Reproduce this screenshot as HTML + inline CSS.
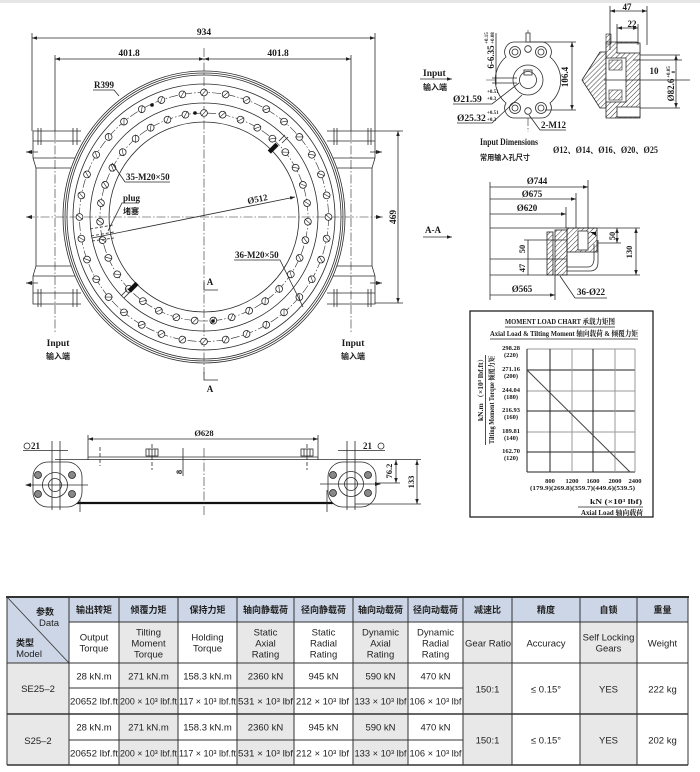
<!DOCTYPE html>
<html><head><meta charset="utf-8">
<style>
html,body{margin:0;padding:0;background:#fff;width:700px;height:772px;overflow:hidden}
svg{display:block}
.l{stroke:#2a2a2a;stroke-width:0.8;fill:none}
.w{stroke:#2a2a2a;stroke-width:0.8;fill:#fff}
.c{stroke:#2a2a2a;stroke-width:0.6;fill:none;stroke-dasharray:9 2 1.5 2}
.t{font-family:"Liberation Serif","Noto Serif CJK SC",serif;font-weight:bold;fill:#1a1a1a}
.s{font-family:"Liberation Sans","Noto Sans CJK SC",sans-serif;fill:#222}
.k{font-family:"Noto Sans CJK SC","WenQuanYi Zen Hei",sans-serif;font-weight:bold;fill:#222}
</style></head><body>
<svg width="700" height="772" viewBox="0 0 700 772" xmlns="http://www.w3.org/2000/svg">
<defs>
<marker id="a" viewBox="0 0 10 10" refX="10" refY="5" markerWidth="5" markerHeight="5" orient="auto-start-reverse" markerUnits="userSpaceOnUse"><path d="M0,1.5 L10,5 L0,8.5z" fill="#222"/></marker>
<pattern id="hx" width="3.5" height="3.5" patternUnits="userSpaceOnUse" patternTransform="rotate(45)"><line x1="0" y1="0" x2="0" y2="3.5" stroke="#222" stroke-width="0.9"/></pattern>
<g id="ho"><circle cx="204" cy="92.5" r="3.4" fill="#fff" stroke="#222" stroke-width="0.8"/><line x1="201.4" y1="95.6" x2="206.6" y2="89.4" stroke="#222" stroke-width="0.6"/></g>
<g id="hi"><circle cx="204" cy="113" r="3.4" fill="#fff" stroke="#222" stroke-width="0.8"/><line x1="201.4" y1="116.1" x2="206.6" y2="109.9" stroke="#222" stroke-width="0.6"/></g>
</defs>
<rect x="0" y="0" width="700" height="3" fill="#e6e6e6"/>

<!-- ============ MAIN PLAN VIEW ============ -->
<line x1="32" y1="38" x2="375" y2="38" class="l" marker-start="url(#a)" marker-end="url(#a)"/>
<line x1="32" y1="33" x2="32" y2="131" class="l"/>
<line x1="375" y1="33" x2="375" y2="131" class="l"/>
<text x="204" y="35" class="t" font-size="9.5" text-anchor="middle">934</text>
<line x1="55" y1="59" x2="204" y2="59" class="l" marker-start="url(#a)" marker-end="url(#a)"/>
<line x1="204" y1="59" x2="351" y2="59" class="l" marker-start="url(#a)" marker-end="url(#a)"/>
<text x="129" y="56" class="t" font-size="9.5" text-anchor="middle">401.8</text>
<text x="278" y="56" class="t" font-size="9.5" text-anchor="middle">401.8</text>
<line x1="55" y1="55" x2="55" y2="131" class="l"/>
<line x1="351" y1="55" x2="351" y2="131" class="l"/>

<!-- housings -->
<path d="M81,131 H33 V158 L36,168 V266 L33,276 V304 H81" class="l"/>
<line x1="33" y1="141" x2="81" y2="141" class="l"/>
<line x1="33" y1="158" x2="78" y2="158" class="l"/>
<line x1="36" y1="168" x2="76" y2="168" class="l"/>
<line x1="36" y1="266" x2="76" y2="266" class="l"/>
<line x1="33" y1="276" x2="78" y2="276" class="l"/>
<line x1="33" y1="293" x2="81" y2="293" class="l"/>
<path d="M38,128 V145 M41,128 V145 M73,128 V145 M77,128 V145 M38,289 V307 M41,289 V307 M73,289 V307 M77,289 V307" class="l" stroke-width="0.6"/>
<path d="M327,131 H375 V158 L372,168 V266 L375,276 V304 H327" class="l"/>
<line x1="327" y1="141" x2="375" y2="141" class="l"/>
<line x1="330" y1="158" x2="375" y2="158" class="l"/>
<line x1="332" y1="168" x2="372" y2="168" class="l"/>
<line x1="332" y1="266" x2="372" y2="266" class="l"/>
<line x1="330" y1="276" x2="375" y2="276" class="l"/>
<line x1="327" y1="293" x2="375" y2="293" class="l"/>
<path d="M334,128 V145 M337,128 V145 M368,128 V145 M371,128 V145 M334,289 V307 M337,289 V307 M368,289 V307 M371,289 V307" class="l" stroke-width="0.6"/>
<path d="M26,152 L32,150 L32,154Z M26,217 L32,215 L32,219Z M26,283 L32,281 L32,285Z M382,152 L376,150 L376,154Z M382,217 L376,215 L376,219Z M382,283 L376,281 L376,285Z" fill="#222"/>
<path d="M26,152 H38 M26,283 H38 M370,152 H382 M370,283 H382" class="l"/>

<!-- ring -->
<ellipse cx="204" cy="217" rx="141" ry="146" class="w"/>
<ellipse cx="204" cy="217" rx="139" ry="144" class="l"/>
<ellipse cx="204" cy="217" rx="137" ry="142" class="l" stroke-width="0.6"/>
<ellipse cx="204" cy="217" rx="131" ry="133" class="l"/>
<circle cx="204" cy="217" r="114" class="l"/>
<circle cx="204" cy="217" r="95" class="l"/>
<circle cx="204" cy="217" r="124.5" class="c"/>
<circle cx="204" cy="217" r="104" class="c"/>

<line x1="204" y1="48" x2="204" y2="374" class="c"/>
<line x1="26" y1="217" x2="384" y2="217" class="c"/>
<line x1="55" y1="131" x2="55" y2="332" class="c"/>
<line x1="351" y1="131" x2="351" y2="332" class="c"/>

<use href="#ho" transform="rotate(0 204 217)"/><use href="#ho" transform="rotate(10 204 217)"/><use href="#ho" transform="rotate(20 204 217)"/><use href="#ho" transform="rotate(30 204 217)"/><use href="#ho" transform="rotate(40 204 217)"/><use href="#ho" transform="rotate(50 204 217)"/><use href="#ho" transform="rotate(60 204 217)"/><use href="#ho" transform="rotate(70 204 217)"/><use href="#ho" transform="rotate(80 204 217)"/><use href="#ho" transform="rotate(90 204 217)"/><use href="#ho" transform="rotate(100 204 217)"/><use href="#ho" transform="rotate(110 204 217)"/><use href="#ho" transform="rotate(120 204 217)"/><use href="#ho" transform="rotate(130 204 217)"/><use href="#ho" transform="rotate(140 204 217)"/><use href="#ho" transform="rotate(150 204 217)"/><use href="#ho" transform="rotate(160 204 217)"/><use href="#ho" transform="rotate(170 204 217)"/><use href="#ho" transform="rotate(180 204 217)"/><use href="#ho" transform="rotate(190 204 217)"/><use href="#ho" transform="rotate(200 204 217)"/><use href="#ho" transform="rotate(210 204 217)"/><use href="#ho" transform="rotate(220 204 217)"/><use href="#ho" transform="rotate(230 204 217)"/><use href="#ho" transform="rotate(240 204 217)"/><use href="#ho" transform="rotate(250 204 217)"/><use href="#ho" transform="rotate(260 204 217)"/><use href="#ho" transform="rotate(270 204 217)"/><use href="#ho" transform="rotate(280 204 217)"/><use href="#ho" transform="rotate(290 204 217)"/><use href="#ho" transform="rotate(300 204 217)"/><use href="#ho" transform="rotate(310 204 217)"/><use href="#ho" transform="rotate(320 204 217)"/><use href="#ho" transform="rotate(330 204 217)"/><use href="#ho" transform="rotate(340 204 217)"/><use href="#ho" transform="rotate(350 204 217)"/>
<use href="#hi" transform="rotate(0 204 217)"/><use href="#hi" transform="rotate(10.286 204 217)"/><use href="#hi" transform="rotate(20.571 204 217)"/><use href="#hi" transform="rotate(30.857 204 217)"/><use href="#hi" transform="rotate(41.143 204 217)"/><use href="#hi" transform="rotate(51.429 204 217)"/><use href="#hi" transform="rotate(61.714 204 217)"/><use href="#hi" transform="rotate(72 204 217)"/><use href="#hi" transform="rotate(82.286 204 217)"/><use href="#hi" transform="rotate(92.571 204 217)"/><use href="#hi" transform="rotate(102.857 204 217)"/><use href="#hi" transform="rotate(113.143 204 217)"/><use href="#hi" transform="rotate(123.429 204 217)"/><use href="#hi" transform="rotate(133.714 204 217)"/><use href="#hi" transform="rotate(144 204 217)"/><use href="#hi" transform="rotate(154.286 204 217)"/><use href="#hi" transform="rotate(164.571 204 217)"/><use href="#hi" transform="rotate(174.857 204 217)"/><use href="#hi" transform="rotate(185.143 204 217)"/><use href="#hi" transform="rotate(195.429 204 217)"/><use href="#hi" transform="rotate(205.714 204 217)"/><use href="#hi" transform="rotate(216 204 217)"/><use href="#hi" transform="rotate(226.286 204 217)"/><use href="#hi" transform="rotate(236.571 204 217)"/><use href="#hi" transform="rotate(246.857 204 217)"/><use href="#hi" transform="rotate(257.143 204 217)"/><use href="#hi" transform="rotate(267.429 204 217)"/><use href="#hi" transform="rotate(277.714 204 217)"/><use href="#hi" transform="rotate(288 204 217)"/><use href="#hi" transform="rotate(298.286 204 217)"/><use href="#hi" transform="rotate(308.571 204 217)"/><use href="#hi" transform="rotate(318.857 204 217)"/><use href="#hi" transform="rotate(329.143 204 217)"/><use href="#hi" transform="rotate(339.429 204 217)"/><use href="#hi" transform="rotate(349.714 204 217)"/>

<rect x="271" y="142.5" width="4.5" height="11" fill="#111" transform="rotate(45 273 148)"/>
<rect x="131" y="281.5" width="4.5" height="11" fill="#111" transform="rotate(45 133 287)"/>
<path d="M279,141 L285,135 M282,143 L288,137 M121,296 L127,290 M124,298 L130,292" class="l" stroke-width="0.6"/>
<path d="M90,229 L113,225 M91,236 L114,232 M92,241 L114,238" class="l" stroke-width="0.6" stroke-dasharray="3 2"/>
<circle cx="195" cy="113" r="1.8" fill="#111"/><circle cx="152" cy="105" r="1.8" fill="#111"/><circle cx="213" cy="321" r="1.8" fill="#111"/>

<text x="94" y="88" class="t" font-size="9">R399</text>
<path d="M93,90 H114 L119,96" class="l"/>
<text x="126" y="180" class="t" font-size="9">35-M20×50</text>
<path d="M170,182 H125 L112,163" class="l"/>
<text x="123" y="201" class="t" font-size="9">plug</text>
<text x="123" y="214" class="k" font-size="8">堵塞</text>
<path d="M139,203 H122 L108,231" class="l"/>
<line x1="92" y1="238" x2="295" y2="197" class="l" marker-end="url(#a)"/>
<text transform="translate(258,202) rotate(-11.4)" class="t" font-size="9" text-anchor="middle">Ø512</text>
<text x="235" y="258" class="t" font-size="9">36-M20×50</text>
<path d="M234,260 H280 L303,307" class="l"/>
<text x="210" y="285" class="t" font-size="9" text-anchor="middle">A</text>
<path d="M204,282 V290 H218" class="l" stroke-width="1"/>
<path d="M204,372 V380 H218" class="l" stroke-width="1"/>
<text x="210" y="392" class="t" font-size="9" text-anchor="middle">A</text>
<text x="58" y="346" class="t" font-size="9.5" text-anchor="middle">Input</text>
<text x="58" y="359" class="k" font-size="8" text-anchor="middle">输入端</text>
<text x="353" y="346" class="t" font-size="9.5" text-anchor="middle">Input</text>
<text x="353" y="359" class="k" font-size="8" text-anchor="middle">输入端</text>
<line x1="398" y1="131" x2="398" y2="303" class="l" marker-start="url(#a)" marker-end="url(#a)"/>
<line x1="375" y1="131" x2="403" y2="131" class="l"/>
<line x1="375" y1="303" x2="403" y2="303" class="l"/>
<text transform="translate(396,217) rotate(-90)" class="t" font-size="9.5" text-anchor="middle">469</text>

<!-- ============ INPUT FLANGE VIEW ============ -->
<text x="423" y="76" class="t" font-size="9.5" font-weight="normal">Input</text>
<text x="423" y="90" class="k" font-size="8">输入端</text>
<line x1="420" y1="79" x2="452" y2="79" class="l" marker-end="url(#a)"/>
<line x1="486" y1="80" x2="566" y2="80" class="c"/>
<line x1="528" y1="30" x2="528" y2="132" class="c"/>
<path d="M515,42 L541,42 A10,10 0 0 1 550,57 A30,30 0 0 1 550,103 A10,10 0 0 1 541,118 L515,118 A10,10 0 0 1 506,103 A30,30 0 0 1 506,57 A10,10 0 0 1 515,42 Z" class="w"/>
<rect x="526" y="33" width="4" height="9" class="w"/>
<circle cx="515" cy="52" r="5.5" class="l"/><circle cx="515" cy="52" r="3" class="l"/>
<circle cx="541" cy="52" r="5.5" class="l"/><circle cx="541" cy="52" r="3" class="l"/>
<circle cx="515" cy="108" r="5.5" class="l"/><circle cx="515" cy="108" r="3" class="l"/>
<circle cx="541" cy="108" r="5.5" class="l"/><circle cx="541" cy="108" r="3" class="l"/>
<circle cx="528" cy="49" r="3.3" class="l"/><circle cx="528" cy="111" r="3.3" class="l"/>
<circle cx="528" cy="80" r="15" class="l"/>
<circle cx="528" cy="80" r="8.5" class="l"/>
<rect x="524" y="70" width="8" height="5" class="l" stroke-width="0.6"/>
<path d="M496,33 V85 M492,78 H517 M492,83 H517" class="l" stroke-width="0.6"/>
<text transform="translate(494,57) rotate(-90)" class="t" font-size="9" text-anchor="middle">6-6.35</text>
<text transform="translate(488,38) rotate(-90)" class="t" font-size="5" text-anchor="middle">+0.15</text>
<text transform="translate(494,38) rotate(-90)" class="t" font-size="5" text-anchor="middle">+0.08</text>
<line x1="572" y1="42" x2="572" y2="110" class="l" marker-start="url(#a)" marker-end="url(#a)"/>
<path d="M530,42 H576 M545,110 H576" class="l" stroke-width="0.6"/>
<text transform="translate(568,77) rotate(-90)" class="t" font-size="9" text-anchor="middle">106.4</text>
<text x="453" y="102" class="t" font-size="9.5">Ø21.59</text>
<text x="487" y="93" class="t" font-size="5">+0.51</text>
<text x="487" y="100" class="t" font-size="5">+0.3</text>
<path d="M453,104 H492 L519,83" class="l"/>
<text x="457" y="121" class="t" font-size="9.5">Ø25.32</text>
<text x="487" y="114" class="t" font-size="5">+0.51</text>
<text x="487" y="121" class="t" font-size="5">+0.3</text>
<path d="M457,123 H492 L522,95" class="l"/>
<text x="541" y="128" class="t" font-size="9">2-M12</text>
<path d="M566,130 H540 L529,115" class="l"/>
<text x="480" y="145" class="t" font-size="9" font-weight="normal" textLength="58" lengthAdjust="spacingAndGlyphs">Input Dimensions</text>
<text x="480" y="160" class="k" font-size="7.5" textLength="50" lengthAdjust="spacingAndGlyphs">常用输入孔尺寸</text>
<text x="553" y="153" class="t" font-size="9.5" textLength="105" lengthAdjust="spacingAndGlyphs">Ø12、Ø14、Ø16、Ø20、Ø25</text>

<polygon points="582,80 600,52 606,52 606,108 600,108" fill="url(#hx)" stroke="#222" stroke-width="0.8"/>
<path d="M606,42 H636 Q640,42 640,46 V118 H606 Z" fill="url(#hx)" stroke="#222" stroke-width="0.8"/>
<rect x="617" y="43" width="23" height="10" class="w"/>
<rect x="617" y="107" width="23" height="10" class="w"/>
<rect x="606" y="58" width="20" height="44" class="w"/>
<rect x="609" y="60" width="13" height="10" fill="url(#hx)" stroke="#222" stroke-width="0.6"/>
<rect x="609" y="90" width="13" height="10" fill="url(#hx)" stroke="#222" stroke-width="0.6"/>
<rect x="606" y="34" width="5" height="10" fill="url(#hx)" stroke="#222" stroke-width="0.6"/>
<path d="M610,6 V50 M647,6 V45 M617,24 V45 M638,24 V45" class="l" stroke-width="0.6"/>
<line x1="610" y1="11" x2="647" y2="11" class="l" marker-start="url(#a)" marker-end="url(#a)"/>
<line x1="617" y1="28" x2="638" y2="28" class="l" marker-start="url(#a)" marker-end="url(#a)"/>
<text x="627" y="10" class="t" font-size="9" text-anchor="middle">47</text>
<text x="632" y="27" class="t" font-size="9" text-anchor="middle">22</text>
<path d="M633,60 H682 M604,80 H690" class="l" stroke-width="0.6"/>
<text x="654" y="74" class="t" font-size="9" text-anchor="middle">10</text>
<path d="M640,55 H680 M640,108 H680" class="l" stroke-width="0.6"/>
<line x1="676" y1="55" x2="676" y2="108" class="l" marker-start="url(#a)" marker-end="url(#a)"/>
<text transform="translate(674,90) rotate(-90)" class="t" font-size="9" text-anchor="middle">Ø82.6</text>
<text transform="translate(670,72) rotate(-90)" class="t" font-size="5" text-anchor="middle">+0.05</text>
<text transform="translate(675,72) rotate(-90)" class="t" font-size="5" text-anchor="middle">0</text>

<!-- ============ SECTION A-A ============ -->
<text x="425" y="233" class="t" font-size="9">A-A</text>
<line x1="423" y1="237" x2="452" y2="237" class="l" marker-end="url(#a)"/>
<line x1="490" y1="182" x2="490" y2="300" class="l" stroke-width="0.6"/>
<line x1="490" y1="187" x2="588" y2="187" class="l" marker-end="url(#a)"/>
<line x1="490" y1="199" x2="576" y2="199" class="l" marker-end="url(#a)"/>
<line x1="490" y1="214" x2="566" y2="214" class="l" marker-end="url(#a)"/>
<path d="M588,180 V228 M576,193 V228 M566,207 V228" class="l" stroke-width="0.6"/>
<text x="537" y="184" class="t" font-size="9" text-anchor="middle">Ø744</text>
<text x="532" y="197" class="t" font-size="9" text-anchor="middle">Ø675</text>
<text x="527" y="211" class="t" font-size="9" text-anchor="middle">Ø620</text>
<line x1="490" y1="228" x2="640" y2="228" class="l"/>
<line x1="490" y1="275" x2="640" y2="275" class="l"/>
<line x1="524" y1="240" x2="567" y2="240" class="l" stroke-width="0.6"/>
<line x1="490" y1="259" x2="567" y2="259" class="l" stroke-width="0.6"/>
<line x1="528" y1="240" x2="528" y2="275" class="l" stroke-width="0.6"/>
<text transform="translate(525,249) rotate(-90)" class="t" font-size="8.5" text-anchor="middle">50</text>
<text transform="translate(525,268) rotate(-90)" class="t" font-size="8.5" text-anchor="middle">47</text>
<rect x="547" y="232" width="6" height="43" fill="url(#hx)" stroke="#222" stroke-width="0.8"/>
<rect x="555" y="230" width="12" height="45" fill="url(#hx)" stroke="#222" stroke-width="0.8"/>
<rect x="567" y="228" width="30" height="24" fill="url(#hx)" stroke="#222" stroke-width="0.8"/>
<rect x="578" y="231" width="10" height="19" class="w"/>
<path d="M567,252 V271 H590 Q598,271 598,262 V240" class="l" stroke-width="1.2"/>
<path d="M567,256 V267 H588 Q593,267 594,260 V244" class="l" stroke-width="0.8"/>
<path d="M590,232 L596,232 L596,236Z" fill="#111"/>
<line x1="555" y1="275" x2="555" y2="300" class="l" stroke-width="0.6"/>
<line x1="490" y1="295" x2="555" y2="295" class="l" marker-end="url(#a)"/>
<text x="522" y="292" class="t" font-size="9" text-anchor="middle">Ø565</text>
<text x="577" y="295" class="t" font-size="9">36-Ø22</text>
<path d="M607,298 H575 L560,276" class="l"/>
<line x1="598" y1="243" x2="621" y2="243" class="l" stroke-width="0.6"/>
<line x1="617" y1="228" x2="617" y2="243" class="l" marker-start="url(#a)" marker-end="url(#a)"/>
<text transform="translate(615,236) rotate(-90)" class="t" font-size="8.5" text-anchor="middle">50</text>
<line x1="636" y1="228" x2="636" y2="275" class="l" marker-start="url(#a)" marker-end="url(#a)"/>
<text transform="translate(632,252) rotate(-90)" class="t" font-size="8.5" text-anchor="middle">130</text>

<!-- ============ MOMENT CHART ============ -->
<rect x="470" y="311" width="183" height="206" fill="none" stroke="#222" stroke-width="1.3"/>
<text x="505" y="324" class="t" font-size="7.5" textLength="110" lengthAdjust="spacingAndGlyphs">MOMENT LOAD CHART 承载力矩图</text>
<line x1="505" y1="327" x2="615" y2="327" stroke="#222" stroke-width="0.8"/>
<text x="490" y="336" class="t" font-size="7.5" textLength="148" lengthAdjust="spacingAndGlyphs">Axial Load &amp; Tilting Moment 轴向载荷 &amp; 倾覆力矩</text>
<line x1="490" y1="339" x2="638" y2="339" stroke="#222" stroke-width="0.8"/>
<g stroke-width="1">
<line x1="527" y1="349" x2="635" y2="349" stroke="#9a9a9a"/>
<line x1="527" y1="370" x2="635" y2="370" stroke="#222"/>
<line x1="527" y1="391" x2="635" y2="391" stroke="#9a9a9a"/>
<line x1="527" y1="411" x2="635" y2="411" stroke="#222"/>
<line x1="527" y1="432" x2="635" y2="432" stroke="#9a9a9a"/>
<line x1="527" y1="452" x2="635" y2="452" stroke="#222"/>
<line x1="527" y1="472" x2="635" y2="472" stroke="#222"/>
<line x1="527" y1="349" x2="527" y2="472" stroke="#222"/>
<line x1="550" y1="349" x2="550" y2="472" stroke="#222"/>
<line x1="572" y1="349" x2="572" y2="472" stroke="#9a9a9a"/>
<line x1="593" y1="349" x2="593" y2="472" stroke="#222"/>
<line x1="615" y1="349" x2="615" y2="472" stroke="#9a9a9a"/>
<line x1="635" y1="349" x2="635" y2="472" stroke="#9a9a9a"/>
</g>
<line x1="527" y1="370" x2="630" y2="472" stroke="#444" stroke-width="1"/>
<g class="t" font-size="6.5" text-anchor="middle">
<text x="511" y="350">298.28</text><text x="511" y="357">(220)</text>
<text x="511" y="371">271.16</text><text x="511" y="378">(200)</text>
<text x="511" y="392">244.04</text><text x="511" y="399">(180)</text>
<text x="511" y="412">216.93</text><text x="511" y="419">(160)</text>
<text x="511" y="433">189.81</text><text x="511" y="440">(140)</text>
<text x="511" y="453">162.70</text><text x="511" y="460">(120)</text>
<text x="550" y="483">800</text><text x="572" y="483">1200</text><text x="593" y="483">1600</text><text x="615" y="483">2000</text><text x="635" y="483">2400</text>
</g>
<text x="530" y="490" class="t" font-size="6.5" textLength="105" lengthAdjust="spacingAndGlyphs">(179.9)(269.8)(359.7)(449.6)(539.5)</text>
<text transform="translate(483,388) rotate(-90)" x="-33" class="t" font-size="7" textLength="66" lengthAdjust="spacingAndGlyphs">kN.m （×10³ lbf.ft）</text>
<line x1="485.5" y1="355" x2="485.5" y2="445" stroke="#222" stroke-width="0.8"/>
<text transform="translate(494,400) rotate(-90)" x="-44" class="t" font-size="7" textLength="88" lengthAdjust="spacingAndGlyphs">Tilting Moment Torque 倾覆力矩</text>
<text x="590" y="504" class="t" font-size="7" textLength="52" lengthAdjust="spacingAndGlyphs">kN (×10³ lbf)</text>
<line x1="578" y1="507" x2="643" y2="507" stroke="#222" stroke-width="0.8"/>
<text x="581" y="515" class="t" font-size="7" textLength="62" lengthAdjust="spacingAndGlyphs">Axial Load 轴向载荷</text>

<!-- ============ BOTTOM SIDE VIEW ============ -->
<line x1="88" y1="439" x2="318" y2="439" class="l" marker-start="url(#a)" marker-end="url(#a)"/>
<line x1="88" y1="435" x2="88" y2="460" class="l"/>
<line x1="318" y1="435" x2="318" y2="460" class="l"/>
<text x="204" y="436" class="t" font-size="8.5" text-anchor="middle">Ø628</text>
<line x1="88" y1="457" x2="318" y2="457" class="l"/>
<line x1="55" y1="459.5" x2="352" y2="459.5" class="l"/>
<line x1="67" y1="503" x2="340" y2="503" stroke="#111" stroke-width="2.2"/>
<line x1="80" y1="490" x2="80" y2="512" class="l"/>
<line x1="327" y1="490" x2="327" y2="512" class="l"/>
<path d="M100,447 V466 M152,444 V470 M307,444 V470" class="l" stroke-width="0.6" stroke-dasharray="4 2"/>
<rect x="146" y="449" width="12" height="7" class="w"/>
<path d="M149,449 V456 M152,449 V456 M155,449 V456" class="l" stroke-width="0.5"/>
<rect x="301" y="449" width="12" height="7" class="w"/>
<path d="M304,449 V456 M307,449 V456 M310,449 V456" class="l" stroke-width="0.5"/>
<line x1="183" y1="448" x2="183" y2="476" class="l"/>
<text transform="translate(182,472) rotate(-90)" class="t" font-size="8.5" text-anchor="middle">8</text>
<line x1="204" y1="448" x2="204" y2="517" class="c"/>
<rect x="33" y="462" width="49" height="45" rx="15" class="w"/>
<circle cx="55" cy="485" r="12.5" class="l"/>
<circle cx="55" cy="485" r="6.5" class="l"/>
<circle cx="38" cy="475" r="3.5" fill="#888" stroke="#222" stroke-width="0.8"/>
<circle cx="72" cy="475" r="3.5" fill="#888" stroke="#222" stroke-width="0.8"/>
<circle cx="38" cy="494" r="3.5" fill="#888" stroke="#222" stroke-width="0.8"/>
<circle cx="72" cy="494" r="3.5" fill="#888" stroke="#222" stroke-width="0.8"/>
<path d="M52,441 V510 M60,441 V510" class="l"/>
<line x1="26" y1="485" x2="88" y2="485" class="l" stroke-width="0.6"/>
<path d="M25,485 L31,483 L31,487Z" fill="#222"/>
<circle cx="27" cy="446" r="3" class="l"/>
<text x="31" y="449" class="t" font-size="9">21</text>
<line x1="23" y1="450.5" x2="68" y2="450.5" class="l"/>
<rect x="328" y="462" width="48" height="45" rx="15" class="w"/>
<circle cx="351" cy="484" r="12.5" class="l"/>
<circle cx="351" cy="484" r="6.5" class="l"/>
<circle cx="333" cy="475" r="3.5" fill="#888" stroke="#222" stroke-width="0.8"/>
<circle cx="368" cy="475" r="3.5" fill="#888" stroke="#222" stroke-width="0.8"/>
<circle cx="333" cy="493" r="3.5" fill="#888" stroke="#222" stroke-width="0.8"/>
<circle cx="368" cy="493" r="3.5" fill="#888" stroke="#222" stroke-width="0.8"/>
<path d="M347,441 V510 M355,441 V510" class="l"/>
<line x1="320" y1="484" x2="380" y2="484" class="l" stroke-width="0.6"/>
<path d="M381,484 L375,482 L375,486Z" fill="#222"/>
<text x="363" y="449" class="t" font-size="9">21</text>
<circle cx="381" cy="446" r="3" class="l"/>
<line x1="338" y1="450.5" x2="385" y2="450.5" class="l"/>
<line x1="352" y1="459.5" x2="421" y2="459.5" class="l" stroke-width="0.6"/>
<line x1="355" y1="504" x2="421" y2="504" class="l" stroke-width="0.6"/>
<line x1="378" y1="483" x2="400" y2="483" class="l" stroke-width="0.6"/>
<line x1="396" y1="460" x2="396" y2="483" class="l" marker-start="url(#a)" marker-end="url(#a)"/>
<text transform="translate(392,471) rotate(-90)" class="t" font-size="8.5" text-anchor="middle">76.2</text>
<line x1="417" y1="460" x2="417" y2="504" class="l" marker-start="url(#a)" marker-end="url(#a)"/>
<text transform="translate(414,482) rotate(-90)" class="t" font-size="8.5" text-anchor="middle">133</text>

<!-- ============ TABLE ============ -->
<rect x="7" y="597" width="62" height="66" fill="#ccd6e6"/>
<rect x="69" y="597" width="619" height="25" fill="#ccd6e6"/>
<g fill="#e8e8e8">
<rect x="7" y="663" width="62" height="102"/>
<rect x="119" y="622" width="59" height="143"/>
<rect x="237" y="622" width="57" height="143"/>
<rect x="353" y="622" width="55" height="143"/>
<rect x="463" y="622" width="49" height="143"/>
<rect x="580" y="622" width="57" height="143"/>
</g>
<g stroke="#333" stroke-width="1">
<line x1="69" y1="622" x2="688" y2="622"/>
<line x1="7" y1="663" x2="688" y2="663"/>
<line x1="69" y1="688" x2="463" y2="688"/>
<line x1="69" y1="740" x2="463" y2="740"/>
<line x1="7" y1="714" x2="688" y2="714" stroke-width="1.5"/>
<line x1="7" y1="765" x2="688" y2="765" stroke-width="1.5"/>
<line x1="6" y1="597" x2="689" y2="597" stroke-width="2"/>
<line x1="7" y1="597" x2="7" y2="765"/>
<line x1="69" y1="597" x2="69" y2="765"/>
<line x1="119" y1="597" x2="119" y2="765"/>
<line x1="178" y1="597" x2="178" y2="765"/>
<line x1="237" y1="597" x2="237" y2="765"/>
<line x1="294" y1="597" x2="294" y2="765"/>
<line x1="353" y1="597" x2="353" y2="765"/>
<line x1="408" y1="597" x2="408" y2="765"/>
<line x1="463" y1="597" x2="463" y2="765"/>
<line x1="512" y1="597" x2="512" y2="765"/>
<line x1="580" y1="597" x2="580" y2="765"/>
<line x1="637" y1="597" x2="637" y2="765"/>
<line x1="688" y1="597" x2="688" y2="765"/>
<line x1="7" y1="597" x2="69" y2="663" stroke-width="0.8"/>
</g>
<g class="k" font-size="9" text-anchor="middle">
<text x="45" y="615">参数</text>
<text x="25" y="646">类型</text>
<text x="94" y="613">输出转矩</text>
<text x="148.5" y="613">倾覆力矩</text>
<text x="207.5" y="613">保持力矩</text>
<text x="265.5" y="613">轴向静载荷</text>
<text x="323.5" y="613">径向静载荷</text>
<text x="380.5" y="613">轴向动载荷</text>
<text x="435.5" y="613">径向动载荷</text>
<text x="487.5" y="613">减速比</text>
<text x="546" y="613">精度</text>
<text x="608.5" y="613">自锁</text>
<text x="662.5" y="613">重量</text>
</g>
<g class="s" font-size="9.5" text-anchor="middle">
<text x="49" y="626">Data</text>
<text x="29" y="657">Model</text>
<text x="94" y="640.5">Output</text><text x="94" y="651.5">Torque</text>
<text x="148.5" y="635.5">Tilting</text><text x="148.5" y="646.5">Moment</text><text x="148.5" y="657.5">Torque</text>
<text x="207.5" y="640.5">Holding</text><text x="207.5" y="651.5">Torque</text>
<text x="265.5" y="635.5">Static</text><text x="265.5" y="646.5">Axial</text><text x="265.5" y="657.5">Rating</text>
<text x="323.5" y="635.5">Static</text><text x="323.5" y="646.5">Radial</text><text x="323.5" y="657.5">Rating</text>
<text x="380.5" y="635.5">Dynamic</text><text x="380.5" y="646.5">Axial</text><text x="380.5" y="657.5">Rating</text>
<text x="435.5" y="635.5">Dynamic</text><text x="435.5" y="646.5">Radial</text><text x="435.5" y="657.5">Rating</text>
<text x="546" y="646.5">Accuracy</text>
<text x="608.5" y="640.5">Self Locking</text><text x="608.5" y="651.5">Gears</text>
<text x="662.5" y="646.5">Weight</text>

<text x="38" y="692">SE25–2</text>
<text x="94" y="679.5">28 kN.m</text>
<text x="148.5" y="679.5">271 kN.m</text>
<text x="207.5" y="679.5">158.3 kN.m</text>
<text x="265.5" y="679.5">2360 kN</text>
<text x="323.5" y="679.5">945 kN</text>
<text x="380.5" y="679.5">590 kN</text>
<text x="435.5" y="679.5">470 kN</text>
<text x="487.5" y="692.5">150:1</text>
<text x="546" y="692.5">≤ 0.15°</text>
<text x="608.5" y="692.5">YES</text>
<text x="662.5" y="692.5">222 kg</text>

<text x="38" y="744">S25–2</text>
<text x="94" y="730.5">28 kN.m</text>
<text x="148.5" y="730.5">271 kN.m</text>
<text x="207.5" y="730.5">158.3 kN.m</text>
<text x="265.5" y="730.5">2360 kN</text>
<text x="323.5" y="730.5">945 kN</text>
<text x="380.5" y="730.5">590 kN</text>
<text x="435.5" y="730.5">470 kN</text>
<text x="487.5" y="743.5">150:1</text>
<text x="546" y="743.5">≤ 0.15°</text>
<text x="608.5" y="743.5">YES</text>
<text x="662.5" y="743.5">202 kg</text>
</g>
<text x="465" y="646.5" class="s" font-size="9.5" textLength="46" lengthAdjust="spacingAndGlyphs">Gear Ratio</text>
<g class="s" font-size="9">
<text x="70" y="704.5" textLength="48" lengthAdjust="spacingAndGlyphs">20652 lbf.ft</text>
<text x="120" y="704.5" textLength="57" lengthAdjust="spacingAndGlyphs">200 × 10³ lbf.ft</text>
<text x="179" y="704.5" textLength="57" lengthAdjust="spacingAndGlyphs">117 × 10³ lbf.ft</text>
<text x="238" y="704.5" textLength="55" lengthAdjust="spacingAndGlyphs">531 × 10³ lbf</text>
<text x="296" y="704.5" textLength="53" lengthAdjust="spacingAndGlyphs">212 × 10³ lbf</text>
<text x="354.5" y="704.5" textLength="52" lengthAdjust="spacingAndGlyphs">133 × 10³ lbf</text>
<text x="409.5" y="704.5" textLength="52" lengthAdjust="spacingAndGlyphs">106 × 10³ lbf</text>
<text x="70" y="756.5" textLength="48" lengthAdjust="spacingAndGlyphs">20652 lbf.ft</text>
<text x="120" y="756.5" textLength="57" lengthAdjust="spacingAndGlyphs">200 × 10³ lbf.ft</text>
<text x="179" y="756.5" textLength="57" lengthAdjust="spacingAndGlyphs">117 × 10³ lbf.ft</text>
<text x="238" y="756.5" textLength="55" lengthAdjust="spacingAndGlyphs">531 × 10³ lbf</text>
<text x="296" y="756.5" textLength="53" lengthAdjust="spacingAndGlyphs">212 × 10³ lbf</text>
<text x="354.5" y="756.5" textLength="52" lengthAdjust="spacingAndGlyphs">133 × 10³ lbf</text>
<text x="409.5" y="756.5" textLength="52" lengthAdjust="spacingAndGlyphs">106 × 10³ lbf</text>
</g>
</svg>
</body></html>
